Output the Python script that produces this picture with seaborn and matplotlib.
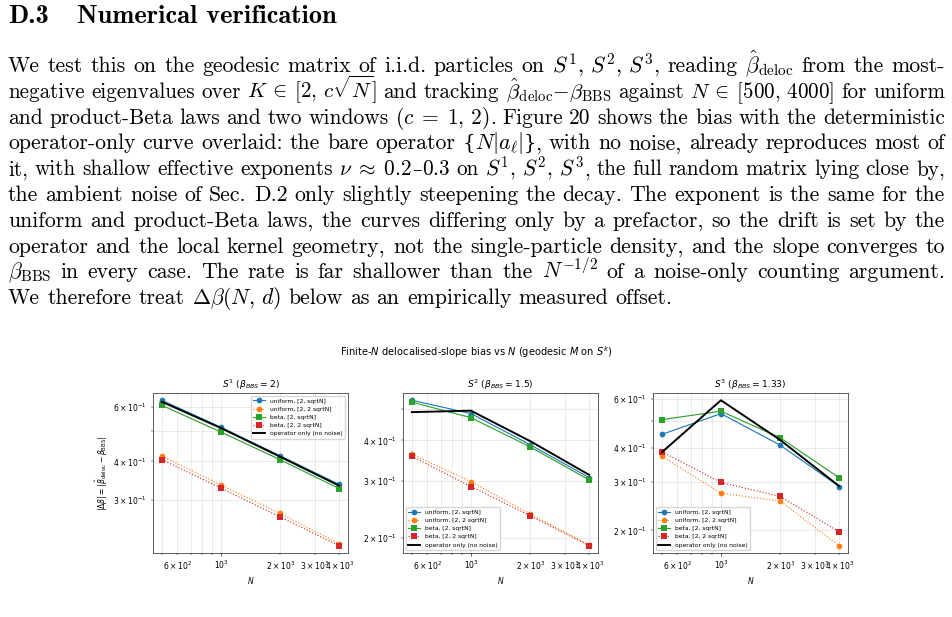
# Loading libraries
import re
import numpy as np
import pandas as pd

import seaborn as sns
import matplotlib.pyplot as plt

# Page text
heading_num = "D.3"
heading_txt = "Numerical verification"
body_lines = [
    r"We test this on the geodesic matrix of i.i.d. particles on $S^1,\, S^2,\, S^3$, reading $\hat{\beta}_{\rm deloc}$ from the most-",
    r"negative eigenvalues over $K \:\in\: [2,\, c\sqrt{N}]$ and tracking $\hat{\beta}_{\rm deloc}{-}\beta_{\rm BBS}$ against $N \:\in\: [500,\, 4000]$ for uniform",
    r"and product-Beta laws and two windows $(c \;=\; 1,\, 2)$. Figure 20 shows the bias with the deterministic",
    r"operator-only curve overlaid: the bare operator {$N|a_\ell|$}, with no noise, already reproduces most of",
    r"it, with shallow effective exponents $\nu \;\approx\; 0.2$–$0.3$ on $S^1,\, S^2,\, S^3$, the full random matrix lying close by,",
    r"the ambient noise of Sec. D.2 only slightly steepening the decay. The exponent is the same for the",
    r"uniform and product-Beta laws, the curves differing only by a prefactor, so the drift is set by the",
    r"operator and the local kernel geometry, not the single-particle density, and the slope converges to",
    r"$\beta_{\rm BBS}$ in every case. The rate is far shallower than the $N^{-1/2}$ of a noise-only counting argument.",
    r"We therefore treat $\Delta\beta(N,\, d)$ below as an empirically measured offset.",
]

# Chart data
n_values = [500, 1000, 2000, 4000]
series_labels = ["uniform, [2, sqrtN]", "uniform, [2, 2 sqrtN]", "beta, [2, sqrtN]",
                 "beta, [2, 2 sqrtN]", "operator only (no noise)"]

s1_uniform_c1 = [0.629, 0.515, 0.417, 0.337]
s1_uniform_c2 = [0.416, 0.336, 0.272, 0.217]
s1_beta_c1 = [0.606, 0.497, 0.405, 0.327]
s1_beta_c2 = [0.405, 0.328, 0.265, 0.214]
s1_operator = [0.622, 0.512, 0.414, 0.334]

s2_uniform_c1 = [0.532, 0.484, 0.388, 0.307]
s2_uniform_c2 = [0.363, 0.298, 0.237, 0.190]
s2_beta_c1 = [0.525, 0.470, 0.382, 0.302]
s2_beta_c2 = [0.357, 0.288, 0.234, 0.189]
s2_operator = [0.489, 0.494, 0.398, 0.313]

s3_uniform_c1 = [0.447, 0.532, 0.409, 0.289]
s3_uniform_c2 = [0.373, 0.273, 0.256, 0.176]
s3_beta_c1 = [0.506, 0.543, 0.435, 0.311]
s3_beta_c2 = [0.387, 0.299, 0.266, 0.198]
s3_operator = [0.385, 0.595, 0.427, 0.290]

panel_titles = [r"$S^1$ ($\beta_{BBS} = 2$)", r"$S^2$ ($\beta_{BBS} = 1.5$)", r"$S^3$ ($\beta_{BBS} = 1.33$)"]
legend_locs = ["upper right", "lower left", "lower left"]

# Figure setup
W, H = 953, 617
s = 0.55  # the chart looks like a default matplotlib figure shrunk down
plt.rcParams.update({
    'font.size': 10 * s,
    'axes.titlesize': 12 * s,
    'axes.labelsize': 10 * s,
    'xtick.labelsize': 10 * s,
    'ytick.labelsize': 10 * s,
    'legend.fontsize': 7.8 * s,
    'axes.linewidth': 0.8 * s,
    'xtick.major.size': 3.5 * s, 'ytick.major.size': 3.5 * s,
    'xtick.minor.size': 2 * s, 'ytick.minor.size': 2 * s,
    'xtick.major.width': 0.8 * s, 'ytick.major.width': 0.8 * s,
    'xtick.minor.width': 0.6 * s, 'ytick.minor.width': 0.6 * s,
    'xtick.major.pad': 3.5 * s, 'ytick.major.pad': 3.5 * s,
    'axes.titlepad': 6 * s,
    'axes.labelpad': 4 * s,
})

fig = plt.figure(figsize=(W / 100, H / 100), dpi=100)
renderer = fig.canvas.get_renderer()

# Heading
fig.text(8 / W, 1 - 23 / H, heading_num, family=['cmb10', 'DejaVu Serif'], fontsize=19, va='baseline')
fig.text(77 / W, 1 - 23 / H, heading_txt, family=['cmb10', 'DejaVu Serif'], fontsize=19, va='baseline')


def split_pieces(token):
    # math segments stay in Computer Modern, en dash and braces come from DejaVu Serif
    pieces = []
    for seg in re.split(r'(\$[^$]*\$)', token):
        if not seg:
            continue
        if seg.startswith('$'):
            pieces.append((seg, False))
        else:
            for sub in re.split(r'([–{}])', seg):
                if sub:
                    pieces.append((sub, sub in ('–', '{', '}')))
    return pieces


# Body paragraph, justified by hand
body_fs = 15.7
left_px, right_px = 8, 945
em_px = body_fs * 100 / 72
space_px = em_px * 0.333
min_gap = em_px * 0.3
for i, line in enumerate(body_lines):
    y = 72 + i * 25.8
    words = re.findall(r'(?:\$[^$]*\$|\S)+', line)
    word_arts = []
    for w in words:
        arts = []
        for txt, alt in split_pieces(w):
            fam = ['DejaVu Serif'] if alt else ['cmr10', 'DejaVu Serif']
            arts.append(fig.text(0, 1 - y / H, txt, fontsize=body_fs * (0.9 if alt else 1), family=fam,
                                 math_fontfamily='cm', va='baseline'))
        word_arts.append(arts)

    def measure():
        return [[a.get_window_extent(renderer).width for a in arts] for arts in word_arts]

    pw = measure()
    total = sum(sum(p) for p in pw)
    n_gaps = len(words) - 1
    # shrink a line a little if it would not fit with a decent gap
    if total + n_gaps * min_gap > right_px - left_px:
        f = (right_px - left_px - n_gaps * min_gap) / total
        for arts in word_arts:
            for a in arts:
                a.set_fontsize(a.get_fontsize() * f)
        pw = measure()
        total = sum(sum(p) for p in pw)
    if i < len(body_lines) - 1:
        gap = (right_px - left_px - total) / n_gaps
    else:
        gap = space_px
    x = left_px
    for arts, p in zip(word_arts, pw):
        xx = x
        for a, wpx in zip(arts, p):
            a.set_x(xx / W)
            xx += wpx
        x += sum(p) + gap

# Chart
fig.text(476 / W, 1 - 352 / H, r"Finite-$N$ delocalised-slope bias vs $N$ (geodesic $M$ on $S^k$)",
         ha='center', va='center', fontsize=13 * s)

panels = [
    [s1_uniform_c1, s1_uniform_c2, s1_beta_c1, s1_beta_c2, s1_operator],
    [s2_uniform_c1, s2_uniform_c2, s2_beta_c1, s2_beta_c2, s2_operator],
    [s3_uniform_c1, s3_uniform_c2, s3_beta_c1, s3_beta_c2, s3_operator],
]
colors = ['#1f77b4', '#ff7f0e', '#2ca02c', '#d62728', 'black']
markers = ['o', 'o', 's', 's', None]
styles = ['-', ':', '-', ':', '-']
widths_lw = [1.5 * s, 1.5 * s, 1.5 * s, 1.5 * s, 2.5 * s]

axes_left_px = [153, 403, 653]
ax_w, ax_top, ax_h = 195, 393, 160

for k, series in enumerate(panels):
    ax = fig.add_axes([axes_left_px[k] / W, 1 - (ax_top + ax_h) / H, ax_w / W, ax_h / H])
    for vals, col, mk, ls, lw, lab in zip(series, colors, markers, styles, widths_lw, series_labels):
        sns.lineplot(x=n_values, y=vals, ax=ax, color=col, marker=mk, linestyle=ls, linewidth=lw,
                     markersize=7.5 * s, markeredgewidth=0, label=lab, legend=False)
    ax.set_xscale('log')
    ax.set_yscale('log')
    ax.grid(True, which='both', color='#b0b0b0', alpha=0.4, linewidth=0.8 * s)
    ax.set_title(panel_titles[k])
    ax.set_xlabel(r"$N$")
    if k == 0:
        ax.set_ylabel(r"$|\Delta\beta| = |\hat{\beta}_{\rm deloc} - \beta_{\rm BBS}|$")
    else:
        ax.set_ylabel("")
    ax.legend(loc=legend_locs[k], handlelength=2.0, borderpad=0.4, labelspacing=0.5)

fig.savefig("out.png", dpi=100, facecolor='white')
